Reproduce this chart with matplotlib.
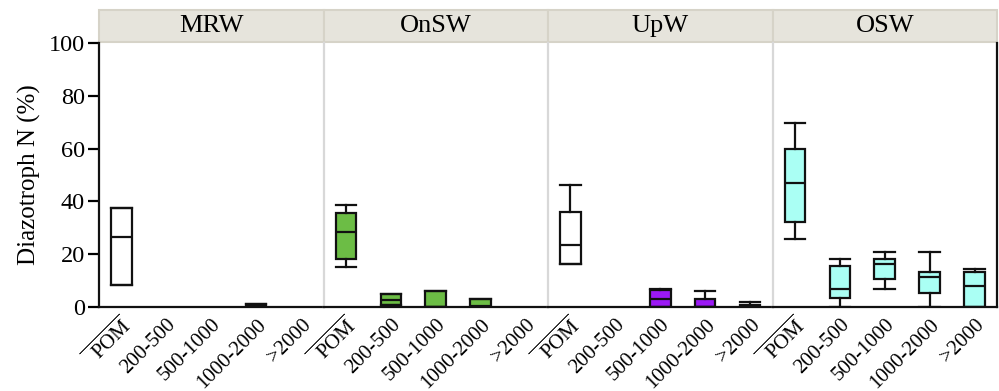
import numpy as np
import matplotlib
matplotlib.use("Agg")
import matplotlib.pyplot as plt
from matplotlib.patches import Rectangle
from matplotlib.transforms import offset_copy

plt.rcParams['font.family'] = ['Liberation Serif', 'DejaVu Serif']
plt.rcParams['mathtext.fontset'] = 'custom'
plt.rcParams['mathtext.rm'] = 'Liberation Serif'
plt.rcParams['mathtext.it'] = 'Liberation Serif:italic'

panels = ["MRW", "OnSW", "UpW", "OSW"]
categories = ["POM", "200-500", "500-1000", "1000-2000", ">2000"]
tick_labels = [r"$\overline{\ \ \mathrm{POM}}$", "200-500", "500-1000", "1000-2000", ">2000"]
nan = np.nan

# box statistics per panel (NaN = no data)
mrw_whislo = [8.3, nan, nan, 0.0, nan]
mrw_q1     = [8.3, nan, nan, 0.0, nan]
mrw_med    = [26.7, nan, nan, 0.8, nan]
mrw_q3     = [37.5, nan, nan, 1.3, nan]
mrw_whishi = [37.5, nan, nan, 1.3, nan]

onsw_whislo = [15.1, 0.8, 0.0, 0.0, nan]
onsw_q1     = [18.2, 0.8, 0.0, 0.0, nan]
onsw_med    = [28.5, 2.8, 0.0, 0.3, nan]
onsw_q3     = [35.6, 4.8, 6.1, 2.9, nan]
onsw_whishi = [38.6, 4.8, 6.1, 2.9, nan]

upw_whislo = [16.2, nan, 0.0, 0.0, 0.0]
upw_q1     = [16.2, nan, 0.0, 0.0, 0.0]
upw_med    = [23.4, nan, 2.9, 0.0, 0.2]
upw_q3     = [36.1, nan, 6.5, 2.9, 0.8]
upw_whishi = [46.3, nan, 7.0, 6.1, 1.8]

osw_whislo = [25.9, 0.0, 6.7, 0.0, 0.0]
osw_q1     = [32.2, 3.4, 10.5, 5.4, 0.0]
osw_med    = [47.0, 6.8, 16.3, 11.2, 8.1]
osw_q3     = [59.7, 15.6, 18.2, 13.1, 13.1]
osw_whishi = [69.8, 18.2, 20.7, 20.7, 14.4]

stats_all = [
    (mrw_whislo, mrw_q1, mrw_med, mrw_q3, mrw_whishi),
    (onsw_whislo, onsw_q1, onsw_med, onsw_q3, onsw_whishi),
    (upw_whislo, upw_q1, upw_med, upw_q3, upw_whishi),
    (osw_whislo, osw_q1, osw_med, osw_q3, osw_whishi),
]
box_colors = ["white", "#6cbd45", "#9b19f5", "#aafff4"]
upw_colors = ["white", "#9b19f5", "#9b19f5", "#9b19f5", "#9b19f5"]

fig = plt.figure(figsize=(9.99, 3.91), dpi=100)
left, right = 99 / 999, 997 / 999
bottom, top = 1 - 307 / 391, 1 - 43 / 391
pw = (right - left) / 4
axes = []
for i in range(4):
    ax = fig.add_axes([left + i * pw, bottom, pw, top - bottom])
    axes.append(ax)

ink = '#111111'
for i, ax in enumerate(axes):
    wl, q1, md, q3, wh = stats_all[i]
    bstats, pos, fcs = [], [], []
    for j in range(len(categories)):
        if np.isnan(q1[j]):
            continue
        bstats.append(dict(whislo=wl[j], q1=q1[j], med=md[j], q3=q3[j],
                           whishi=wh[j], fliers=[]))
        pos.append(j)
        fcs.append(upw_colors[j] if i == 2 else box_colors[i])
    res = ax.bxp(bstats, positions=pos, widths=0.46, capwidths=0.46,
                 patch_artist=True, showfliers=False,
                 boxprops=dict(linewidth=1.6, edgecolor=ink),
                 medianprops=dict(color=ink, linewidth=1.6),
                 whiskerprops=dict(color=ink, linewidth=1.6),
                 capprops=dict(color=ink, linewidth=1.6))
    for patch, fc in zip(res['boxes'], fcs):
        patch.set_facecolor(fc)
    ax.set_xlim(-0.5, 4.5)
    ax.set_ylim(0, 100)
    ax.set_xticks(range(len(categories)))
    ax.set_xticklabels([])
    ax.tick_params(axis='x', length=0)
    for j, lab in enumerate(tick_labels):
        tr = offset_copy(ax.get_xaxis_transform(), fig=fig, x=7, y=-15, units='dots')
        ax.text(j, 0, lab, transform=tr, rotation=45, rotation_mode='anchor',
                ha='right', va='center', fontsize=15)
    ax.spines['top'].set_visible(False)
    ax.spines['bottom'].set_color(ink)
    ax.spines['bottom'].set_linewidth(1.6)
    if i == 0:
        ax.spines['left'].set_color(ink)
        ax.spines['left'].set_linewidth(1.6)
        ax.set_yticks([0, 20, 40, 60, 80, 100])
        ax.tick_params(axis='y', length=8, width=1.6, labelsize=17.5, pad=2)
        ax.set_ylabel("Diazotroph N (%)", fontsize=18, labelpad=6)
    else:
        ax.spines['left'].set_color('#d8d8d8')
        ax.spines['left'].set_linewidth(1.6)
        ax.set_yticks([])
    if i == 3:
        ax.spines['right'].set_color(ink)
        ax.spines['right'].set_linewidth(1.6)
    else:
        ax.spines['right'].set_visible(False)
    # strip
    rect = Rectangle((0, 1.004), 1, 0.121, transform=ax.transAxes,
                     facecolor='#e6e4dc', edgecolor='#d6d3c8', linewidth=1.5,
                     clip_on=False)
    ax.add_patch(rect)
    ax.text(0.5, 1.004 + 0.121 / 2, panels[i], transform=ax.transAxes,
            ha='center', va='center', fontsize=19)

fig.savefig("out.png", dpi=100)
